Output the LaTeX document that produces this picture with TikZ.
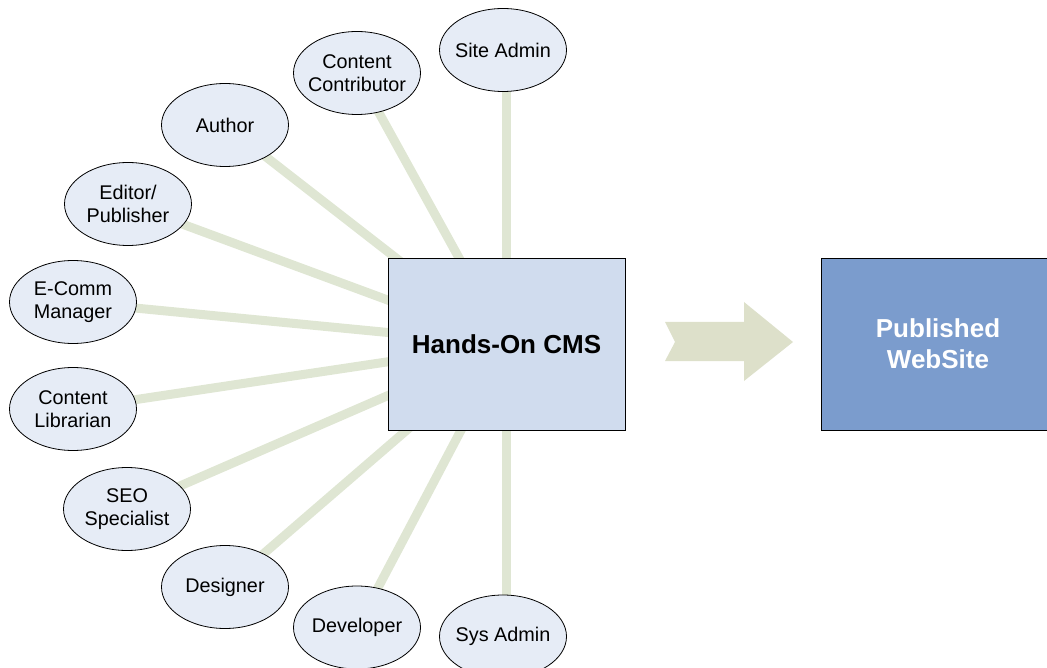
\documentclass[tikz,border=0pt]{standalone}
\usepackage{fontspec}
\setmainfont{Liberation Sans}
\usetikzlibrary{shapes.geometric}
\definecolor{linkgreen}{HTML}{DFE6D3}
\definecolor{ellfill}{HTML}{E6ECF6}
\definecolor{cmsfill}{HTML}{D0DCEE}
\definecolor{pubfill}{HTML}{7B9CCD}
\definecolor{arrowfill}{HTML}{DDE0CA}
\tikzset{
  role/.style={ellipse, draw=black, line width=0.8pt, fill=ellfill, minimum width=127pt, minimum height=83pt, inner xsep=-12pt, inner ysep=-6pt, align=center, font=\fontsize{19.8}{23.5}\selectfont},
  link/.style={draw=linkgreen, line width=9pt},
  bigbox/.style={draw=black, line width=0.9pt, font=\fontsize{26}{31}\selectfont\bfseries, align=center, inner sep=0pt}
}
\begin{document}
\begin{tikzpicture}[x=1pt,y=-1pt]
\useasboundingbox (0,0) rectangle (1047,668);
\clip (0,0) rectangle (1047,668);
\coordinate (cmsc) at (506.5,344);
% connectors (drawn first, under nodes)
\coordinate (p1) at (503,50);
\coordinate (p2) at (357,73);
\coordinate (p3) at (225,125);
\coordinate (p4) at (128,204);
\coordinate (p5) at (73,302);
\coordinate (p6) at (73,409);
\coordinate (p7) at (127,509);
\coordinate (p8) at (225,587);
\coordinate (p9) at (357,627.5);
\coordinate (p10) at (503,636.5);
\draw[link] (cmsc |- p1) -- (cmsc);
\foreach \i in {2,...,9} { \draw[link] (p\i) -- (cmsc); }
\draw[link] (cmsc |- p10) -- (cmsc);
% nodes
\node[role] (siteadmin) at (p1) {Site Admin};
\node[role] (contrib) at (p2) {Content\\Contributor};
\node[role] (author) at (p3) {Author};
\node[role] (editor) at (p4) {Editor/\\Publisher};
\node[role] (ecomm) at (p5) {E-Comm\\Manager};
\node[role] (librarian) at (p6) {Content\\Librarian};
\node[role] (seo) at (p7) {SEO\\Specialist};
\node[role] (designer) at (p8) {Designer};
\node[role] (developer) at (p9) {Developer};
\node[role] (sysadmin) at (p10) {Sys Admin};
\node[bigbox, fill=cmsfill, minimum width=237pt, minimum height=172pt] (cms) at (cmsc) {Hands-On CMS};
\node[bigbox, fill=pubfill, text=white, minimum width=234pt, minimum height=172pt] (pub) at (938,344) {Published\\WebSite};
% block arrow
\fill[arrowfill] (665,322) -- (744,322) -- (744,302) -- (793,342) -- (744,381) -- (744,361) -- (665,361) -- (675,342) -- cycle;
\end{tikzpicture}
\end{document}
